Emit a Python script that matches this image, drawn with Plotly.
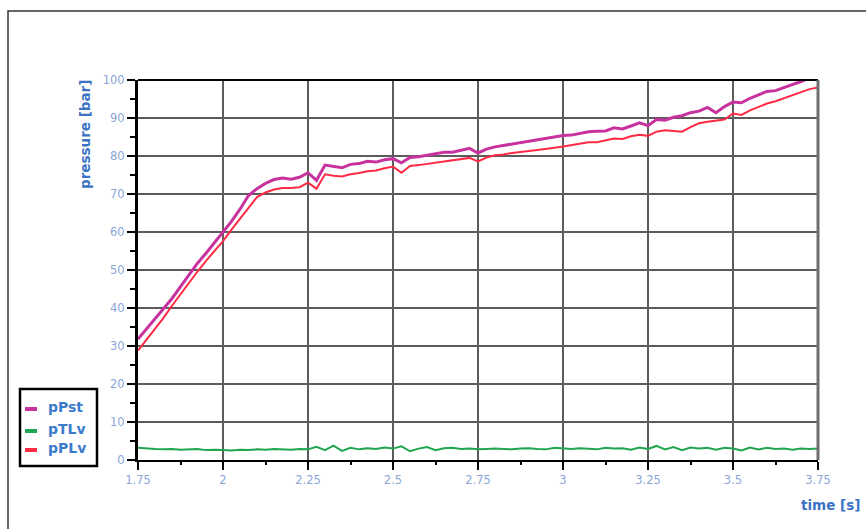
import plotly.graph_objects as go

# ---------------- data ----------------
time_s = [1.750, 1.775, 1.800, 1.825, 1.850, 1.875, 1.900, 1.925, 1.950, 1.975,
          2.000, 2.025, 2.050, 2.075, 2.100, 2.125, 2.150, 2.175, 2.200, 2.225,
          2.250, 2.275, 2.300, 2.325, 2.350, 2.375, 2.400, 2.425, 2.450, 2.475,
          2.500, 2.525, 2.550, 2.575, 2.600, 2.625, 2.650, 2.675, 2.700, 2.725,
          2.750, 2.775, 2.800, 2.825, 2.850, 2.875, 2.900, 2.925, 2.950, 2.975,
          3.000, 3.025, 3.050, 3.075, 3.100, 3.125, 3.150, 3.175, 3.200, 3.225,
          3.250, 3.275, 3.300, 3.325, 3.350, 3.375, 3.400, 3.425, 3.450, 3.475,
          3.500, 3.525, 3.550, 3.575, 3.600, 3.625, 3.650, 3.675, 3.700, 3.725,
          3.750]

pPst = [31.8, 34.5, 37.2, 39.6, 42.5, 45.6, 48.8, 51.8, 54.4, 57.2,
        59.8, 62.8, 66.0, 69.6, 71.4, 72.8, 73.8, 74.2, 73.9, 74.4,
        75.6, 73.6, 77.6, 77.2, 76.9, 77.8, 78.0, 78.6, 78.4, 79.0,
        79.3, 78.2, 79.6, 79.8, 80.2, 80.5, 81.0, 81.0, 81.6, 82.0,
        80.8, 81.8, 82.4, 82.8, 83.0, 83.6, 84.0, 84.3, 84.6, 85.0,
        85.4, 85.5, 86.0, 86.4, 86.5, 86.6, 87.4, 87.1, 87.9, 88.7,
        88.0, 89.6, 89.4, 90.2, 90.6, 91.4, 91.8, 92.8, 91.4, 93.0,
        94.2, 94.0, 95.2, 96.0, 97.0, 97.2, 98.0, 98.6, 99.6, 100.6,
        101.0]

pTLv = [3.2, 3.0, 2.9, 2.8, 2.9, 2.7, 2.8, 2.9, 2.6, 2.7,
        2.6, 2.5, 2.7, 2.6, 2.8, 2.7, 2.9, 2.8, 2.7, 2.9,
        2.8, 3.5, 2.6, 3.8, 2.4, 3.2, 2.8, 3.1, 2.9, 3.3,
        3.0, 3.6, 2.3, 3.0, 3.4, 2.6, 3.1, 3.2, 2.9, 3.0,
        2.8, 2.9, 3.0, 2.9, 2.8, 3.0, 3.1, 2.9, 2.8, 3.2,
        3.0, 2.9, 3.1, 3.0, 2.8, 3.2, 3.0, 3.1, 2.7, 3.3,
        2.9, 3.7, 2.8, 3.4, 2.6, 3.3, 3.0, 3.2, 2.7, 3.2,
        3.0, 2.5, 3.3, 2.8, 3.2, 2.9, 3.0, 2.7, 3.0, 2.9,
        3.0]

pPLv = [28.8, 31.6, 34.5, 37.4, 40.6, 43.6, 46.8, 49.6, 52.4, 55.0,
        57.6, 60.6, 63.4, 66.2, 69.2, 70.4, 71.2, 71.6, 71.6, 71.8,
        73.0, 71.4, 75.2, 74.8, 74.6, 75.2, 75.5, 76.0, 76.2, 76.8,
        77.2, 75.6, 77.4, 77.6, 77.9, 78.2, 78.6, 78.8, 79.2, 79.5,
        78.6, 79.6, 80.2, 80.4, 80.8, 81.0, 81.3, 81.6, 82.0, 82.2,
        82.5, 82.9, 83.2, 83.6, 83.6, 84.2, 84.6, 84.5, 85.2, 85.6,
        85.3, 86.4, 86.8, 86.6, 86.4, 87.6, 88.6, 89.0, 89.4, 89.6,
        91.2, 90.8, 92.0, 93.0, 93.8, 94.4, 95.2, 96.0, 96.8, 97.6,
        98.0]

series_names = ["pPst", "pTLv", "pPLv"]
series_values = [pPst, pTLv, pPLv]
series_colors = ["#c8329e", "#21a650", "#ff2a45"]
series_widths = [3, 2, 2]

x_ticks = [1.75, 2, 2.25, 2.5, 2.75, 3, 3.25, 3.5, 3.75]
x_tick_labels = ["1.75", "2", "2.25", "2.5", "2.75", "3", "3.25", "3.5", "3.75"]
y_ticks = [0, 10, 20, 30, 40, 50, 60, 70, 80, 90, 100]

# ---------------- figure ----------------
fig = go.Figure()
for name, vals, col, w in zip(series_names, series_values, series_colors, series_widths):
    fig.add_trace(go.Scatter(x=time_s, y=vals, mode="lines", name=name,
                             line=dict(color=col, width=w), showlegend=False))

FONT = "DejaVu Sans, Verdana, sans-serif"
tick_font = dict(family=FONT, size=11.5, color="#8ca6d8")
title_blue = "#3a72c4"

fig.update_layout(
    width=866, height=529,
    margin=dict(l=138, r=48, t=80, b=69),
    paper_bgcolor="white", plot_bgcolor="white",
    xaxis=dict(range=[1.75, 3.75], tickvals=x_ticks, ticktext=x_tick_labels,
               showgrid=True, gridcolor="#5c5c5c", gridwidth=1.5,
               zeroline=False, showline=True, linecolor="black", linewidth=2,
               ticks="outside", ticklen=8, tickwidth=2, tickcolor="black",
               minor=dict(dtick=0.125, tick0=1.75, ticks="outside", ticklen=3,
                          tickwidth=2, tickcolor="black", showgrid=False),
               tickfont=tick_font, fixedrange=True),
    yaxis=dict(range=[0, 100], tickvals=y_ticks,
               showgrid=True, gridcolor="#5c5c5c", gridwidth=1.5,
               zeroline=False, showline=True, linecolor="black", linewidth=3,
               ticks="outside", ticklen=8, tickwidth=2, tickcolor="black",
               minor=dict(dtick=5, tick0=0, ticks="outside", ticklen=5,
                          tickwidth=2, tickcolor="black", showgrid=False),
               tickfont=tick_font, fixedrange=True),
    xaxis2=dict(range=[1.75, 3.75], overlaying="x", anchor="y", side="bottom",
                tickvals=x_ticks, showticklabels=False, showgrid=False,
                zeroline=False, showline=False,
                ticks="inside", ticklen=5, tickwidth=2, tickcolor="black",
                minor=dict(dtick=0.125, tick0=1.75, ticks="inside", ticklen=5,
                           tickwidth=2, tickcolor="black", showgrid=False)),
    yaxis2=dict(range=[0, 100], overlaying="y", anchor="x", side="left",
                tickvals=y_ticks, showticklabels=False, showgrid=False,
                zeroline=False, showline=False,
                ticks="inside", ticklen=7, tickwidth=2, tickcolor="black",
                minor=dict(dtick=5, tick0=0, ticks="inside", ticklen=5,
                           tickwidth=2, tickcolor="black", showgrid=False)),
    showlegend=False,
)


def px_x(px):
    return (px - 138) / 680


def px_y(py):
    return (460 - py) / 380


# plot frame: top black, right grey
fig.add_shape(type="line", xref="paper", yref="paper", x0=0, x1=1, y0=1, y1=1,
              line=dict(color="black", width=2))
fig.add_shape(type="line", xref="paper", yref="paper", x0=1, x1=1, y0=0, y1=1,
              line=dict(color="#6e6e6e", width=3))

# outer frame of the picture
fig.add_shape(type="rect", xref="paper", yref="paper",
              x0=px_x(8), x1=px_x(880), y0=px_y(545), y1=px_y(11),
              line=dict(color="#333333", width=1.5), fillcolor="rgba(0,0,0,0)",
              layer="below")

# axis titles
fig.add_annotation(text="<b>pressure [bar]</b>", xref="paper", yref="paper",
                   x=px_x(85), y=px_y(135), textangle=-90,
                   showarrow=False, xanchor="center", yanchor="middle",
                   font=dict(family=FONT, size=13.5, color=title_blue))
fig.add_annotation(text="<b>time [s]</b>", xref="paper", yref="paper",
                   x=px_x(862), y=px_y(505),
                   showarrow=False, xanchor="right", yanchor="middle",
                   font=dict(family=FONT, size=13.5, color=title_blue))

# custom legend
fig.add_shape(type="rect", xref="paper", yref="paper",
              x0=px_x(20), x1=px_x(97), y0=px_y(466), y1=px_y(389),
              line=dict(color="black", width=2.5), fillcolor="white")
legend_rows = [407, 429, 448]
for name, col, yy in zip(series_names, series_colors, legend_rows):
    fig.add_shape(type="line", xref="paper", yref="paper",
                  x0=px_x(25), x1=px_x(37), y0=px_y(yy + 2), y1=px_y(yy + 2),
                  line=dict(color=col, width=4))
    fig.add_annotation(text="<b>" + name + "</b>", xref="paper", yref="paper",
                       x=px_x(46), y=px_y(yy), showarrow=False,
                       xanchor="left", yanchor="middle",
                       font=dict(family=FONT, size=14, color="#3b7bcc"))

fig.write_html("out.html",
               config={"displayModeBar": False},
               post_script="document.body.style.margin='0';"
                           "document.body.style.overflow='hidden';")
